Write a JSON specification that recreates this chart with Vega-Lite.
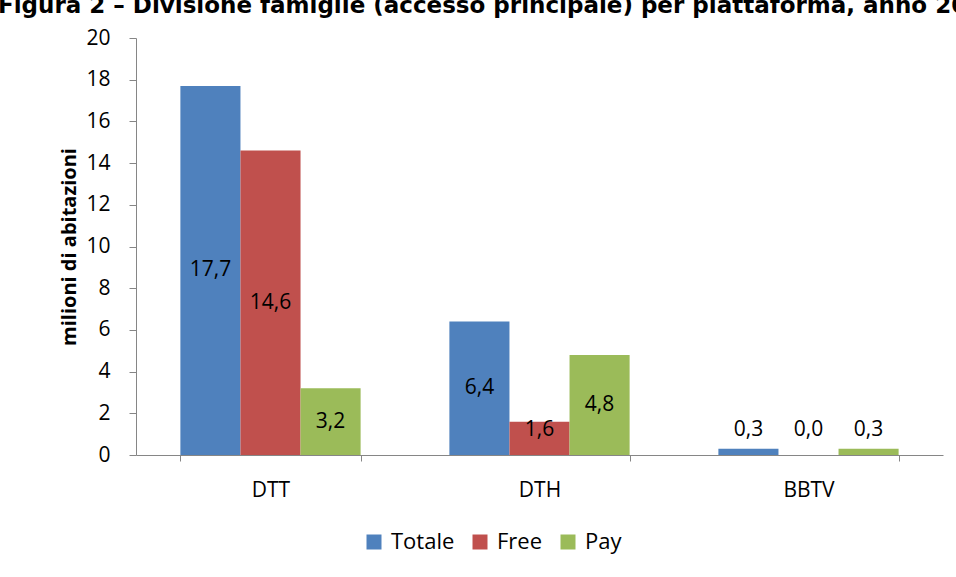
{
  "$schema": "https://vega.github.io/schema/vega-lite/v6.json",
  "autosize": "none",
  "padding": {"left": 136, "top": 38, "right": 13, "bottom": 122},
  "width": 807,
  "height": 417,
  "background": "white",
  "title": {
    "text": "Figura 2 – Divisione famiglie (accesso principale) per piattaforma, anno 2013",
    "anchor": "start",
    "frame": "group",
    "orient": "top",
    "baseline": "alphabetic",
    "offset": 12,
    "dx": -138,
    "dy": 21,
    "font": "DejaVu Sans",
    "fontSize": 23,
    "fontWeight": "bold",
    "color": "black"
  },
  "data": {
    "values": [
      {"piattaforma": "DTT", "serie": "Totale", "valore": 17.7},
      {"piattaforma": "DTT", "serie": "Free", "valore": 14.6},
      {"piattaforma": "DTT", "serie": "Pay", "valore": 3.2},
      {"piattaforma": "DTH", "serie": "Totale", "valore": 6.4},
      {"piattaforma": "DTH", "serie": "Free", "valore": 1.6},
      {"piattaforma": "DTH", "serie": "Pay", "valore": 4.8},
      {"piattaforma": "BBTV", "serie": "Totale", "valore": 0.3},
      {"piattaforma": "BBTV", "serie": "Free", "valore": 0.0},
      {"piattaforma": "BBTV", "serie": "Pay", "valore": 0.3}
    ]
  },
  "transform": [
    {"calculate": "max(datum.valore / 2, 1.2)", "as": "pos"},
    {"calculate": "replace(format(datum.valore, '.1f'), '.', ',')", "as": "etichetta"}
  ],
  "encoding": {
    "x": {
      "field": "piattaforma",
      "type": "nominal",
      "sort": ["DTT", "DTH", "BBTV"],
      "scale": {"paddingInner": 0.33, "paddingOuter": 0.165},
      "axis": {
        "title": null,
        "labelAngle": 0,
        "labelFont": "Open Sans",
        "labelFontSize": 21,
        "labelColor": "black",
        "labelPadding": 18,
        "tickBand": "extent",
        "tickSize": 6,
        "domainColor": "#868686",
        "tickColor": "#868686"
      }
    },
    "xOffset": {
      "field": "serie",
      "type": "nominal",
      "sort": ["Totale", "Free", "Pay"],
      "scale": {"paddingInner": 0, "paddingOuter": 0}
    }
  },
  "layer": [
    {
      "mark": {"type": "bar"},
      "encoding": {
        "y": {
          "field": "valore",
          "type": "quantitative",
          "scale": {"domain": [0, 20]},
          "axis": {
            "title": "milioni di abitazioni",
            "titleFont": "Open Sans",
            "titleFontSize": 20,
            "titleFontWeight": "bold",
            "titleColor": "black",
            "titlePadding": 6,
            "values": [0, 2, 4, 6, 8, 10, 12, 14, 16, 18, 20],
            "labelFont": "Open Sans",
            "labelFontSize": 21,
            "labelColor": "black",
            "labelPadding": 19,
            "tickSize": 7,
            "grid": false,
            "domainColor": "#868686",
            "tickColor": "#868686"
          }
        },
        "color": {
          "field": "serie",
          "type": "nominal",
          "sort": ["Totale", "Free", "Pay"],
          "scale": {"domain": ["Totale", "Free", "Pay"], "range": ["#4F81BD", "#C0504D", "#9BBB59"]},
          "legend": {
            "title": null,
            "orient": "none",
            "direction": "horizontal",
            "legendX": 227,
            "legendY": 493,
            "symbolType": "square",
            "symbolSize": 225,
            "symbolStrokeWidth": 0,
            "labelFont": "Open Sans",
            "labelFontSize": 22,
            "labelColor": "black",
            "columnPadding": 14,
            "labelOffset": 6
          }
        }
      }
    },
    {
      "mark": {"type": "text", "font": "Open Sans", "fontSize": 21, "color": "black", "baseline": "middle"},
      "encoding": {
        "y": {"field": "pos", "type": "quantitative"},
        "text": {"field": "etichetta"}
      }
    }
  ],
  "config": {
    "view": {"stroke": null},
    "axis": {"domainWidth": 1}
  }
}
